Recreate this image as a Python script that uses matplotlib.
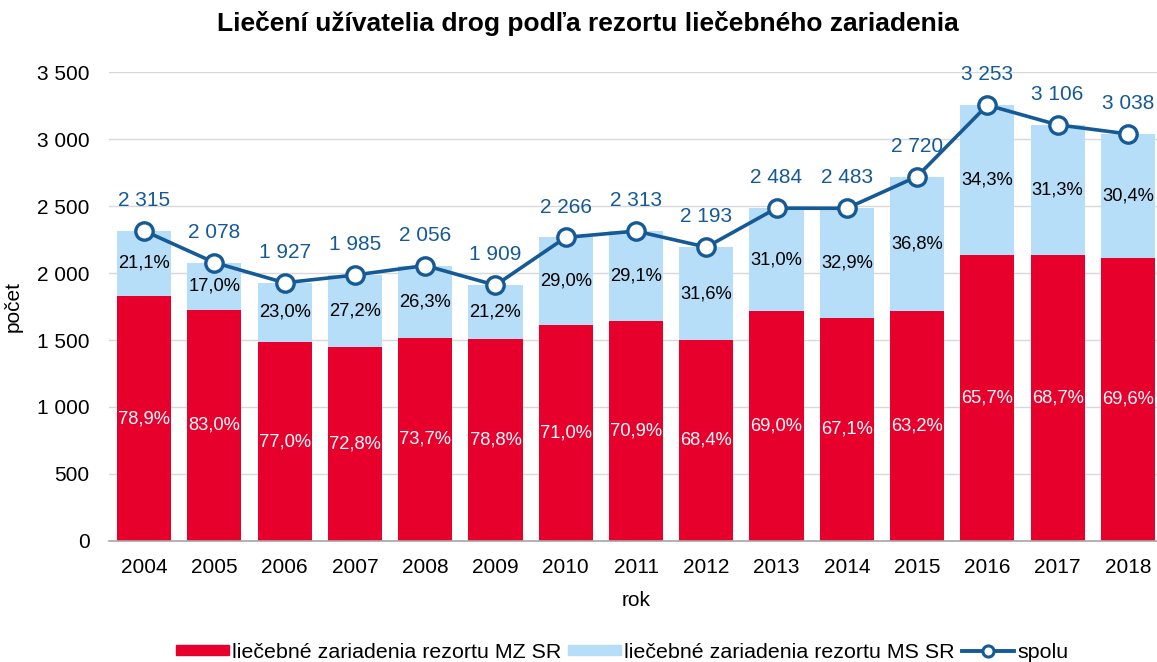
import matplotlib.pyplot as plt
from matplotlib.lines import Line2D
from matplotlib.patches import Patch

plt.rcParams['font.family'] = ['Liberation Sans', 'DejaVu Sans']

# data
years = ["2004", "2005", "2006", "2007", "2008", "2009", "2010", "2011",
         "2012", "2013", "2014", "2015", "2016", "2017", "2018"]
total = [2315, 2078, 1927, 1985, 2056, 1909, 2266, 2313,
         2193, 2484, 2483, 2720, 3253, 3106, 3038]
mz_count = [1827, 1725, 1484, 1445, 1515, 1504, 1609, 1640,
            1500, 1714, 1666, 1719, 2137, 2134, 2114]
mz_pct = ["78,9%", "83,0%", "77,0%", "72,8%", "73,7%", "78,8%", "71,0%", "70,9%",
          "68,4%", "69,0%", "67,1%", "63,2%", "65,7%", "68,7%", "69,6%"]
ms_pct = ["21,1%", "17,0%", "23,0%", "27,2%", "26,3%", "21,2%", "29,0%", "29,1%",
          "31,6%", "31,0%", "32,9%", "36,8%", "34,3%", "31,3%", "30,4%"]
ms_count = [t - m for t, m in zip(total, mz_count)]

RED = "#E8002D"
LIGHT = "#B7DEF8"
BLUE = "#155A96"

fig = plt.figure(figsize=(11.57, 6.62), dpi=100)
ax = fig.add_axes([0.0942, 0.1828, 0.911, 0.7084])

x = list(range(len(years)))
w = 0.77
ax.bar(x, mz_count, width=w, color=RED, zorder=2)
ax.bar(x, ms_count, width=w, bottom=mz_count, color=LIGHT, zorder=2)
ax.plot(x, total, color=BLUE, lw=2.6, marker="o", ms=12.5, mfc="white",
        mec=BLUE, mew=2.4, zorder=4)

for i in x:
    ax.text(i, mz_count[i] / 2, mz_pct[i], ha="center", va="center",
            color="white", fontsize=13.2, zorder=3)
    ax.text(i, mz_count[i] + ms_count[i] / 2, ms_pct[i], ha="center",
            va="center", color="black", fontsize=13.2, zorder=3)
    ax.annotate(f"{total[i]:,}".replace(",", " "), (i, total[i]),
                xytext=(0, 15), textcoords="offset points", ha="center",
                va="bottom", color=BLUE, fontsize=15, zorder=5)

ax.set_xlim(-0.5, len(years) - 0.5)
ax.set_ylim(0, 3500)
ax.set_yticks(range(0, 3501, 500))
ax.set_yticklabels([f"{v:,}".replace(",", " ") for v in range(0, 3501, 500)],
                   fontsize=15)
ax.set_xticks(x)
ax.set_xticklabels(years, fontsize=15)
ax.tick_params(axis="x", length=0, pad=12)
ax.tick_params(axis="y", length=0, pad=14)
ax.yaxis.grid(True, color="#D9D9D9", lw=1, zorder=0)
for s in ["top", "right", "left"]:
    ax.spines[s].set_visible(False)
ax.spines["bottom"].set_color("#A6A6A6")
ax.spines["bottom"].set_linewidth(1.2)

ax.set_ylabel("počet", fontsize=15, labelpad=10)
ax.set_xlabel("rok", fontsize=15, labelpad=10)

fig.text(0.508, 0.965, "Liečení užívatelia drog podľa rezortu liečebného zariadenia",
         ha="center", va="center", fontsize=19, fontweight="bold")

handles = [
    Patch(color=RED, label="liečebné zariadenia rezortu MZ SR"),
    Patch(color=LIGHT, label="liečebné zariadenia rezortu MS SR"),
    Line2D([], [], color=BLUE, lw=2.8, marker="o", ms=8, mfc="white",
           mec=BLUE, mew=2.2, label="spolu"),
]
fig.legend(handles=handles, loc="center", bbox_to_anchor=(0.538, 0.015),
           ncol=3, frameon=False, fontsize=15.4, handlelength=2.45,
           handleheight=0.4, handletextpad=0.15, columnspacing=0.35)

fig.savefig("out.png", dpi=100)
